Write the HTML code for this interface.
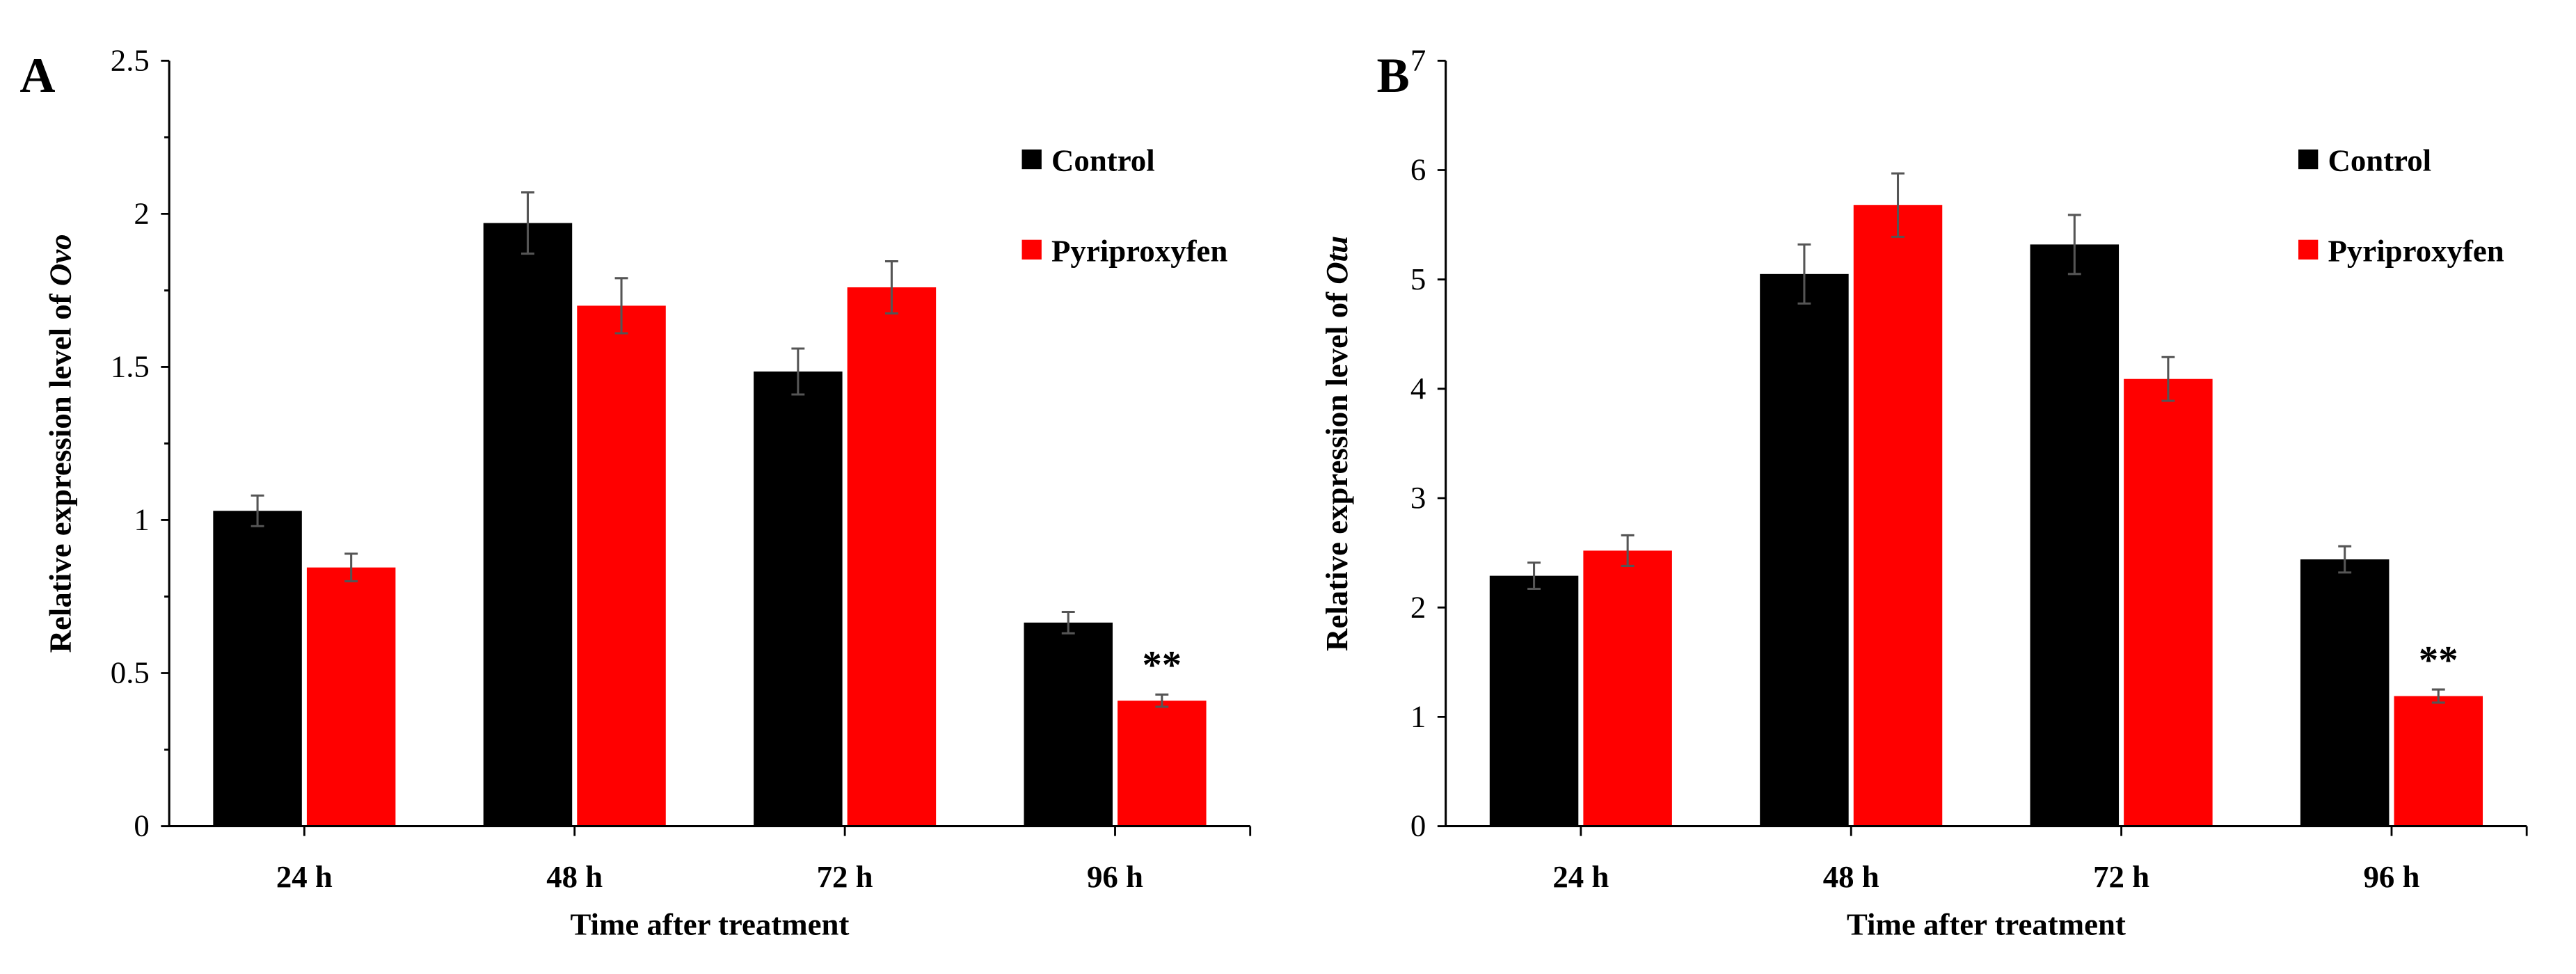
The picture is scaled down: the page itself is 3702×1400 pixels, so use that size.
<!DOCTYPE html>
<html><head><meta charset="utf-8"><style>
html,body{margin:0;padding:0;background:#fff}
svg{display:block}
text{font-family:"Liberation Serif",serif}
</style></head><body>
<svg id="fig" width="3702" height="1400" viewBox="0 0 1568 593" preserveAspectRatio="none"></svg>
<script>
const categories=["24 h","48 h","72 h","96 h"];
const ovoControl=[1.03,1.97,1.485,0.665];
const ovoControlErr=[0.05,0.10,0.075,0.035];
const ovoPyri=[0.845,1.70,1.76,0.41];
const ovoPyriErr=[0.045,0.09,0.085,0.02];
const otuControl=[2.29,5.05,5.32,2.44];
const otuControlErr=[0.12,0.27,0.27,0.12];
const otuPyri=[2.52,5.68,4.09,1.19];
const otuPyriErr=[0.14,0.29,0.2,0.06];
const ovoTicks=["0","0.5","1","1.5","2","2.5"];
const otuTicks=["0","1","2","3","4","5","6","7"];
const sigLabels=["","","","**"];

const NS="http://www.w3.org/2000/svg";
const svg=document.getElementById('fig');
function mk(tag,attrs,parent,txt){const e=document.createElementNS(NS,tag);for(const k in attrs)e.setAttribute(k,attrs[k]);if(txt!==undefined)e.textContent=txt;(parent||svg).appendChild(e);return e;}

function panel(o){
  const g=mk('g',{});
  
  
  const x0=o.x0,x1=o.x0+658,y0=503,yTop=37;
  const ymax=Number(o.ticks[o.ticks.length-1]);
  const ys=v=>y0-(v/ymax)*(y0-yTop);
  const cw=(x1-x0)/categories.length;
  for(let i=0;i<categories.length;i++){
    const c=x0+cw*(i+0.5);
    const bw=54;
    const series=[[o.ctl,o.ctlErr,'#000',c-bw-1.5,'control'],[o.pyr,o.pyrErr,'#ff0000',c+1.5,'pyriproxyfen']];
    for(const s of series){
      const v=s[0][i],e=s[1][i];
      const r=mk('rect',{x:s[3],y:ys(v),width:bw,height:y0-ys(v),fill:s[2]},g);
      
      
      const ex=s[3]+bw/2;
      const eb=mk('path',{d:`M${ex},${ys(v+e)}V${ys(v-e)}M${ex-4},${ys(v+e)}H${ex+4}M${ex-4},${ys(v-e)}H${ex+4}`,stroke:'#555','stroke-width':1.3,fill:'none'},g);
      
      
    }
    if(sigLabels[i]){
      const t=mk('text',{x:c+1.5+27,y:ys(o.pyr[i]+o.pyrErr[i])-10,'text-anchor':'middle','font-size':24,'font-weight':'bold'},g,sigLabels[i]);
      
      
    }
    const xl=mk('text',{x:c,y:540,'text-anchor':'middle','font-size':19,'font-weight':'bold'},g,categories[i]);
    
    
  }
  const ax=mk('path',{d:`M${x0},${yTop}V${y0}H${x1}`,stroke:'#000','stroke-width':1.3,fill:'none'},g);
  
  
  let tk='';
  for(let i=0;i<categories.length;i++){const xx=x0+cw*(i+0.5);tk+=`M${xx},${y0}v6`;}
  tk+=`M${x1},${y0}v6`;
  const step=ymax/(o.ticks.length-1);
  for(let i=0;i<o.ticks.length;i++){tk+=`M${x0-5},${ys(i*step)}h5`;}
  if(o.minor){for(let i=0;i<o.ticks.length-1;i++){tk+=`M${x0-3},${ys((i+0.5)*step)}h3`;}}
  mk('path',{d:tk,stroke:'#000','stroke-width':1.2,fill:'none'},g);
  o.ticks.forEach((t,i)=>{
    const tl=mk('text',{x:x0-12,y:ys(i*step)+6,'text-anchor':'end','font-size':19},g,t);
    
    
  });
  const xt=mk('text',{x:x0+329,y:569,'text-anchor':'middle','font-size':19,'font-weight':'bold'},g,'Time after treatment');
  
  
  const yt=mk('text',{x:0,y:0,transform:`translate(${x0-60},270) rotate(-90)`,'text-anchor':'middle','font-size':19,'font-weight':'bold'},g);
  
  
  mk('tspan',{},yt,'Relative expression level of ');
  mk('tspan',{'font-style':'italic'},yt,o.gene);
  const pl=mk('text',{x:o.lx,y:56,'font-size':30,'font-weight':'bold'},g,o.letter);
  
  
  const lg=mk('g',{},g);
  
  
  mk('rect',{x:x0+519,y:91,width:12,height:12,fill:'#000'},lg);
  mk('text',{x:x0+537,y:104,'font-size':19,'font-weight':'bold'},lg,'Control');
  mk('rect',{x:x0+519,y:146,width:12,height:12,fill:'#ff0000'},lg);
  mk('text',{x:x0+537,y:159,'font-size':19,'font-weight':'bold'},lg,'Pyriproxyfen');
}
panel({name:'panel-a-ovo',x0:103,ctl:ovoControl,ctlErr:ovoControlErr,pyr:ovoPyri,pyrErr:ovoPyriErr,ticks:ovoTicks,minor:true,gene:'Ovo',letter:'A',lx:12});
panel({name:'panel-b-otu',x0:880,ctl:otuControl,ctlErr:otuControlErr,pyr:otuPyri,pyrErr:otuPyriErr,ticks:otuTicks,minor:false,gene:'Otu',letter:'B',lx:838});
</script>
</body></html>
